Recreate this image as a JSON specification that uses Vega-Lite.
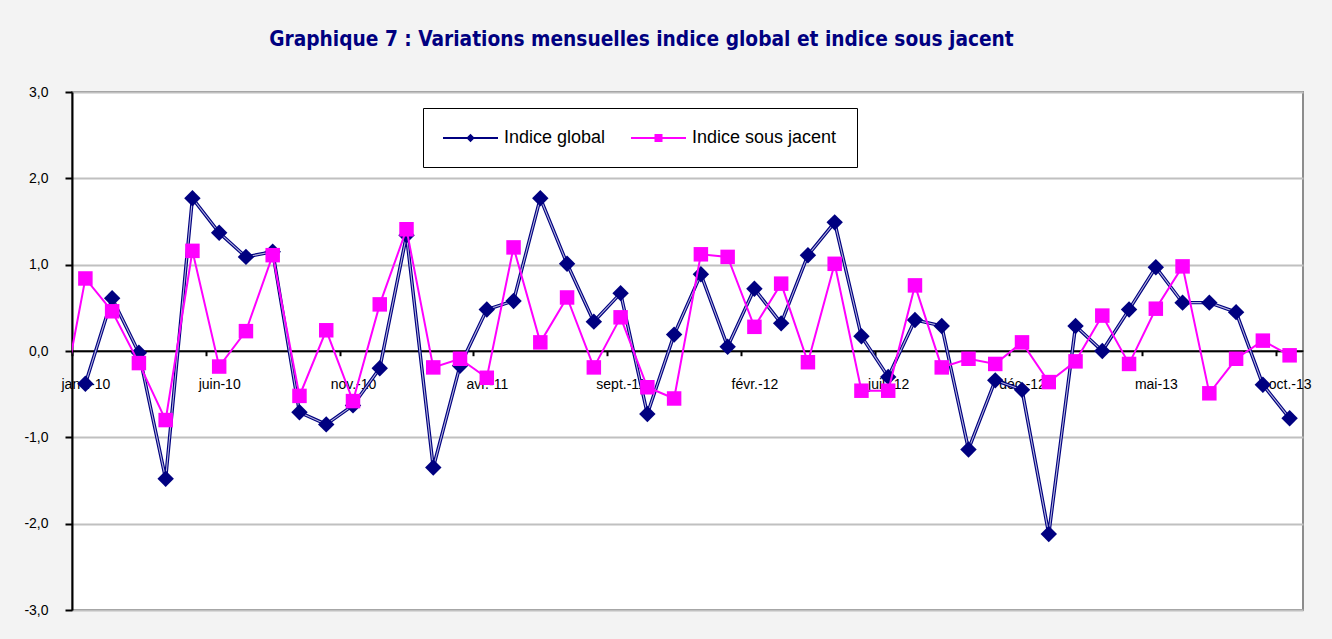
{
  "$schema": "https://vega.github.io/schema/vega-lite/v6.json",
  "autosize": {"type": "none"},
  "padding": {"left": 72, "top": 92, "right": 29, "bottom": 29},
  "width": 1231,
  "height": 518,
  "background": "#f3f3f3",
  "config": {
    "view": {"fill": "white", "stroke": "#8c8c8c", "strokeWidth": 2},
    "font": "Liberation Sans"
  },
  "title": {
    "text": "Graphique 7 : Variations mensuelles indice global et indice sous jacent",
    "font": "'DejaVu Sans Condensed', 'Liberation Sans', sans-serif",
    "fontSize": 20.7,
    "fontWeight": "bold",
    "color": "#000080",
    "anchor": "middle",
    "dx": -46,
    "offset": 34
  },
  "datasets": {
    "d": [
      {"i": -1, "mois": "déc.-09", "serie": "Indice sous jacent", "valeur": -0.8},
      {"i": 0, "mois": "janv.-10", "serie": "Indice global", "valeur": -0.38},
      {"i": 1, "mois": "févr.-10", "serie": "Indice global", "valeur": 0.61},
      {"i": 2, "mois": "mars-10", "serie": "Indice global", "valeur": -0.02},
      {"i": 3, "mois": "avr.-10", "serie": "Indice global", "valeur": -1.48},
      {"i": 4, "mois": "mai-10", "serie": "Indice global", "valeur": 1.77},
      {"i": 5, "mois": "juin-10", "serie": "Indice global", "valeur": 1.37},
      {"i": 6, "mois": "juil.-10", "serie": "Indice global", "valeur": 1.09},
      {"i": 7, "mois": "août-10", "serie": "Indice global", "valeur": 1.15},
      {"i": 8, "mois": "sept.-10", "serie": "Indice global", "valeur": -0.71},
      {"i": 9, "mois": "oct.-10", "serie": "Indice global", "valeur": -0.85},
      {"i": 10, "mois": "nov.-10", "serie": "Indice global", "valeur": -0.63},
      {"i": 11, "mois": "déc.-10", "serie": "Indice global", "valeur": -0.2},
      {"i": 12, "mois": "janv.-11", "serie": "Indice global", "valeur": 1.34},
      {"i": 13, "mois": "févr.-11", "serie": "Indice global", "valeur": -1.35},
      {"i": 14, "mois": "mars-11", "serie": "Indice global", "valeur": -0.17},
      {"i": 15, "mois": "avr.-11", "serie": "Indice global", "valeur": 0.48},
      {"i": 16, "mois": "mai-11", "serie": "Indice global", "valeur": 0.58},
      {"i": 17, "mois": "juin-11", "serie": "Indice global", "valeur": 1.77},
      {"i": 18, "mois": "juil.-11", "serie": "Indice global", "valeur": 1.01},
      {"i": 19, "mois": "août-11", "serie": "Indice global", "valeur": 0.34},
      {"i": 20, "mois": "sept.-11", "serie": "Indice global", "valeur": 0.67},
      {"i": 21, "mois": "oct.-11", "serie": "Indice global", "valeur": -0.73},
      {"i": 22, "mois": "nov.-11", "serie": "Indice global", "valeur": 0.19},
      {"i": 23, "mois": "déc.-11", "serie": "Indice global", "valeur": 0.89},
      {"i": 24, "mois": "janv.-12", "serie": "Indice global", "valeur": 0.05},
      {"i": 25, "mois": "févr.-12", "serie": "Indice global", "valeur": 0.72},
      {"i": 26, "mois": "mars-12", "serie": "Indice global", "valeur": 0.32},
      {"i": 27, "mois": "avr.-12", "serie": "Indice global", "valeur": 1.11},
      {"i": 28, "mois": "mai-12", "serie": "Indice global", "valeur": 1.49},
      {"i": 29, "mois": "juin-12", "serie": "Indice global", "valeur": 0.17},
      {"i": 30, "mois": "juil.-12", "serie": "Indice global", "valeur": -0.3},
      {"i": 31, "mois": "août-12", "serie": "Indice global", "valeur": 0.36},
      {"i": 32, "mois": "sept.-12", "serie": "Indice global", "valeur": 0.29},
      {"i": 33, "mois": "oct.-12", "serie": "Indice global", "valeur": -1.14},
      {"i": 34, "mois": "nov.-12", "serie": "Indice global", "valeur": -0.34},
      {"i": 35, "mois": "déc.-12", "serie": "Indice global", "valeur": -0.45},
      {"i": 36, "mois": "janv.-13", "serie": "Indice global", "valeur": -2.12},
      {"i": 37, "mois": "févr.-13", "serie": "Indice global", "valeur": 0.29},
      {"i": 38, "mois": "mars-13", "serie": "Indice global", "valeur": 0.0},
      {"i": 39, "mois": "avr.-13", "serie": "Indice global", "valeur": 0.48},
      {"i": 40, "mois": "mai-13", "serie": "Indice global", "valeur": 0.97},
      {"i": 41, "mois": "juin-13", "serie": "Indice global", "valeur": 0.56},
      {"i": 42, "mois": "juil.-13", "serie": "Indice global", "valeur": 0.56},
      {"i": 43, "mois": "août-13", "serie": "Indice global", "valeur": 0.45},
      {"i": 44, "mois": "sept.-13", "serie": "Indice global", "valeur": -0.39},
      {"i": 45, "mois": "oct.-13", "serie": "Indice global", "valeur": -0.78},
      {"i": 0, "mois": "janv.-10", "serie": "Indice sous jacent", "valeur": 0.84},
      {"i": 1, "mois": "févr.-10", "serie": "Indice sous jacent", "valeur": 0.46},
      {"i": 2, "mois": "mars-10", "serie": "Indice sous jacent", "valeur": -0.14},
      {"i": 3, "mois": "avr.-10", "serie": "Indice sous jacent", "valeur": -0.8},
      {"i": 4, "mois": "mai-10", "serie": "Indice sous jacent", "valeur": 1.16},
      {"i": 5, "mois": "juin-10", "serie": "Indice sous jacent", "valeur": -0.18},
      {"i": 6, "mois": "juil.-10", "serie": "Indice sous jacent", "valeur": 0.23},
      {"i": 7, "mois": "août-10", "serie": "Indice sous jacent", "valeur": 1.11},
      {"i": 8, "mois": "sept.-10", "serie": "Indice sous jacent", "valeur": -0.52},
      {"i": 9, "mois": "oct.-10", "serie": "Indice sous jacent", "valeur": 0.24},
      {"i": 10, "mois": "nov.-10", "serie": "Indice sous jacent", "valeur": -0.58},
      {"i": 11, "mois": "déc.-10", "serie": "Indice sous jacent", "valeur": 0.54},
      {"i": 12, "mois": "janv.-11", "serie": "Indice sous jacent", "valeur": 1.41},
      {"i": 13, "mois": "févr.-11", "serie": "Indice sous jacent", "valeur": -0.19},
      {"i": 14, "mois": "mars-11", "serie": "Indice sous jacent", "valeur": -0.09},
      {"i": 15, "mois": "avr.-11", "serie": "Indice sous jacent", "valeur": -0.31},
      {"i": 16, "mois": "mai-11", "serie": "Indice sous jacent", "valeur": 1.2},
      {"i": 17, "mois": "juin-11", "serie": "Indice sous jacent", "valeur": 0.1},
      {"i": 18, "mois": "juil.-11", "serie": "Indice sous jacent", "valeur": 0.62},
      {"i": 19, "mois": "août-11", "serie": "Indice sous jacent", "valeur": -0.19},
      {"i": 20, "mois": "sept.-11", "serie": "Indice sous jacent", "valeur": 0.39},
      {"i": 21, "mois": "oct.-11", "serie": "Indice sous jacent", "valeur": -0.42},
      {"i": 22, "mois": "nov.-11", "serie": "Indice sous jacent", "valeur": -0.55},
      {"i": 23, "mois": "déc.-11", "serie": "Indice sous jacent", "valeur": 1.12},
      {"i": 24, "mois": "janv.-12", "serie": "Indice sous jacent", "valeur": 1.09},
      {"i": 25, "mois": "févr.-12", "serie": "Indice sous jacent", "valeur": 0.28},
      {"i": 26, "mois": "mars-12", "serie": "Indice sous jacent", "valeur": 0.78},
      {"i": 27, "mois": "avr.-12", "serie": "Indice sous jacent", "valeur": -0.13},
      {"i": 28, "mois": "mai-12", "serie": "Indice sous jacent", "valeur": 1.01},
      {"i": 29, "mois": "juin-12", "serie": "Indice sous jacent", "valeur": -0.46},
      {"i": 30, "mois": "juil.-12", "serie": "Indice sous jacent", "valeur": -0.46},
      {"i": 31, "mois": "août-12", "serie": "Indice sous jacent", "valeur": 0.76},
      {"i": 32, "mois": "sept.-12", "serie": "Indice sous jacent", "valeur": -0.19},
      {"i": 33, "mois": "oct.-12", "serie": "Indice sous jacent", "valeur": -0.09},
      {"i": 34, "mois": "nov.-12", "serie": "Indice sous jacent", "valeur": -0.15},
      {"i": 35, "mois": "déc.-12", "serie": "Indice sous jacent", "valeur": 0.1},
      {"i": 36, "mois": "janv.-13", "serie": "Indice sous jacent", "valeur": -0.36},
      {"i": 37, "mois": "févr.-13", "serie": "Indice sous jacent", "valeur": -0.12},
      {"i": 38, "mois": "mars-13", "serie": "Indice sous jacent", "valeur": 0.41},
      {"i": 39, "mois": "avr.-13", "serie": "Indice sous jacent", "valeur": -0.15},
      {"i": 40, "mois": "mai-13", "serie": "Indice sous jacent", "valeur": 0.49},
      {"i": 41, "mois": "juin-13", "serie": "Indice sous jacent", "valeur": 0.98},
      {"i": 42, "mois": "juil.-13", "serie": "Indice sous jacent", "valeur": -0.49},
      {"i": 43, "mois": "août-13", "serie": "Indice sous jacent", "valeur": -0.09},
      {"i": 44, "mois": "sept.-13", "serie": "Indice sous jacent", "valeur": 0.12},
      {"i": 45, "mois": "oct.-13", "serie": "Indice sous jacent", "valeur": -0.05}
    ]
  },
  "data": {"name": "d"},
  "encoding": {
    "x": {
      "field": "i",
      "type": "quantitative",
      "scale": {"domain": [-0.5, 45.5], "nice": false, "zero": false},
      "axis": {
        "title": null,
        "values": [0, 5, 10, 15, 20, 25, 30, 35, 40, 45],
        "labelExpr": "['janv.','févr.','mars','avr.','mai','juin','juil.','août','sept.','oct.','nov.','déc.'][datum.value % 12] + '-' + (10 + floor(datum.value / 12))",
        "offset": -259.3,
        "domainColor": "black",
        "domainWidth": 2,
        "tickColor": "black",
        "tickWidth": 2,
        "tickSize": 5,
        "tickOffset": -13.4,
        "labelOffset": 13.4,
        "labelFontSize": 14,
        "labelColor": "black",
        "labelPadding": 22,
        "labelFlush": false,
        "labelOverlap": false,
        "grid": false
      }
    },
    "y": {
      "field": "valeur",
      "type": "quantitative",
      "scale": {"domain": [-3, 3], "nice": false, "zero": false},
      "axis": {
        "title": null,
        "values": [-3, -2, -1, 0, 1, 2, 3],
        "labelExpr": "(datum.value < 0 ? '-' : '') + replace(format(abs(datum.value), '.1f'), '.', ',')",
        "domainColor": "black",
        "domainWidth": 2,
        "tickColor": "black",
        "tickWidth": 2,
        "tickSize": 7,
        "labelFontSize": 14,
        "labelColor": "black",
        "labelPadding": 17,
        "grid": true,
        "gridColor": "#c0c0c0",
        "gridWidth": 2
      }
    }
  },
  "layer": [
    {
      "transform": [{"filter": "datum.serie === 'Indice global'"}],
      "mark": {"type": "line", "color": "#000080", "strokeWidth": 3.4, "clip": true},
      "encoding": {}
    },
    {
      "transform": [{"filter": "datum.serie === 'Indice global'"}],
      "mark": {"type": "line", "color": "#b4b4dc", "strokeWidth": 1.1, "clip": true},
      "encoding": {}
    },
    {
      "transform": [{"filter": "datum.serie === 'Indice global'"}],
      "mark": {"type": "point", "filled": true, "opacity": 1, "shape": "diamond", "size": 270, "strokeWidth": 0, "clip": true, "color": "#000080"},
      "encoding": {}
    },
    {
      "transform": [{"filter": "datum.serie === 'Indice sous jacent'"}],
      "mark": {"type": "line", "color": "#ff00ff", "strokeWidth": 2, "clip": true},
      "encoding": {}
    },
    {
      "transform": [{"filter": "datum.serie === 'Indice sous jacent' && datum.i >= 0"}],
      "mark": {"type": "point", "filled": true, "opacity": 1, "shape": "square", "size": 210, "strokeWidth": 0, "clip": true, "color": "#ff00ff"},
      "encoding": {}
    },
    {
      "transform": [{"filter": "datum.i >= 0"}],
      "mark": {"type": "point", "filled": true, "opacity": 1, "size": 0, "strokeWidth": 0},
      "encoding": {
        "color": {
          "field": "serie",
          "type": "nominal",
          "scale": {"domain": ["Indice global", "Indice sous jacent"], "range": ["#000080", "#ff00ff"]},
          "legend": {
            "title": null,
            "orient": "none",
            "legendX": 351,
            "legendY": 16,
            "direction": "horizontal",
            "fillColor": "white",
            "strokeColor": "black",
            "padding": 20,
            "symbolSize": 400,
            "symbolStrokeWidth": 0,
            "labelFontSize": 18,
            "labelColor": "black",
            "labelOffset": 41,
            "columnPadding": 25
          }
        },
        "shape": {
          "field": "serie",
          "type": "nominal",
          "scale": {
            "domain": ["Indice global", "Indice sous jacent"],
            "range": [
              "M-1,-0.1L4.5,-0.1L4.5,0.1L-1,0.1Z M1.75,-0.42L2.17,0L1.75,0.42L1.33,0Z",
              "M-1,-0.1L4.5,-0.1L4.5,0.1L-1,0.1Z M1.35,-0.4L2.15,-0.4L2.15,0.4L1.35,0.4Z"
            ]
          },
          "legend": {
            "title": null,
            "orient": "none",
            "legendX": 351,
            "legendY": 16,
            "direction": "horizontal",
            "fillColor": "white",
            "strokeColor": "black",
            "padding": 20,
            "symbolSize": 400,
            "symbolStrokeWidth": 0,
            "labelFontSize": 18,
            "labelColor": "black",
            "labelOffset": 41,
            "columnPadding": 25
          }
        }
      }
    }
  ]
}
